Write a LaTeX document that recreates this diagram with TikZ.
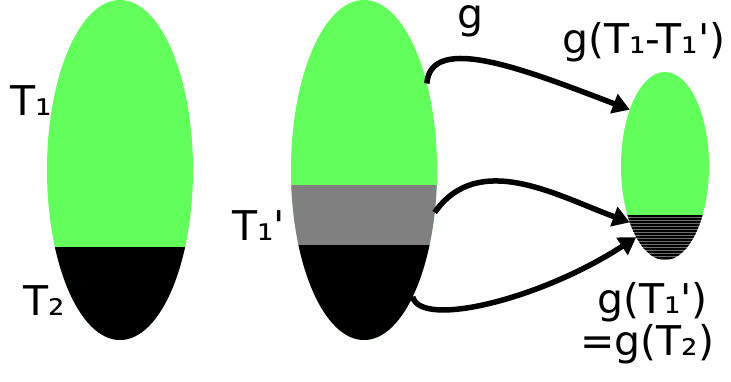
\documentclass[tikz,border=0pt]{standalone}
\usepackage{fontspec}
\usetikzlibrary{arrows.meta,shapes.geometric}
\newfontfamily\setfont{DejaVu Sans}
\definecolor{setgreen}{HTML}{62FF5C}
\definecolor{setgray}{HTML}{808080}
\definecolor{hatchgray}{HTML}{6E6E6E}

\begin{document}
\begin{tikzpicture}[
  x=1pt,y=-1pt,
  blob/.style={ellipse,fill=setgreen,inner sep=0pt,outer sep=0pt},
  big/.style={blob,minimum width=146pt,minimum height=340pt},
  small/.style={blob,minimum width=88pt,minimum height=188pt},
  map/.style={-{Triangle[length=17pt,width=20pt]},line width=5.5pt,draw=black},
  lbl/.style={font=\setfont\fontsize{41}{48}\selectfont,anchor=base west,inner sep=0pt}
]
\useasboundingbox (0,0) rectangle (731,381);

% the three sets
\node[big] (dom) at (120,170) {};
\node[big] (src) at (364,170) {};
\node[small] (img) at (665,166) {};

% parts of the sets
\begin{scope}
  \clip (dom.center) ellipse [x radius=73pt,y radius=170pt];
  \fill[black] (40,247) rectangle (200,345);
\end{scope}
\begin{scope}
  \clip (src.center) ellipse [x radius=73pt,y radius=170pt];
  \fill[setgray] (285,185) rectangle (445,245);
  \fill[black] (285,245) rectangle (445,345);
\end{scope}
\begin{scope}
  \clip (img.center) ellipse [x radius=44pt,y radius=94pt];
  \fill[hatchgray] (615,215) rectangle (715,265);
  \foreach \y in {216,219,...,264}
    \draw[black,line width=1.3pt] (615,\y) -- (715,\y);
\end{scope}

% labels
\node[lbl] (t1) at (10,115) {T₁};
\node[lbl] (t2) at (23,315) {T₂};
\node[lbl] (t1p) at (232,240) {T₁'};
\node[lbl] (gname) at (457,28) {g};
\node[lbl] (gdiff) at (562,53) {g(T₁-T₁')};
\node[lbl] (gpart) at (597,313) {g(T₁')};
\node[lbl] (geq) at (580,355) {=g(T₂)};

% the map g
\draw[map] (src.54) .. controls +(4,-52) and +(-100,-38) .. (img.122);
\draw[map] (src.-31) to[out=55,in=160] (img.238);
\draw[map] (src.-69) .. controls +(8,32) and +(-95,62) .. (img.248);
\end{tikzpicture}
\end{document}
